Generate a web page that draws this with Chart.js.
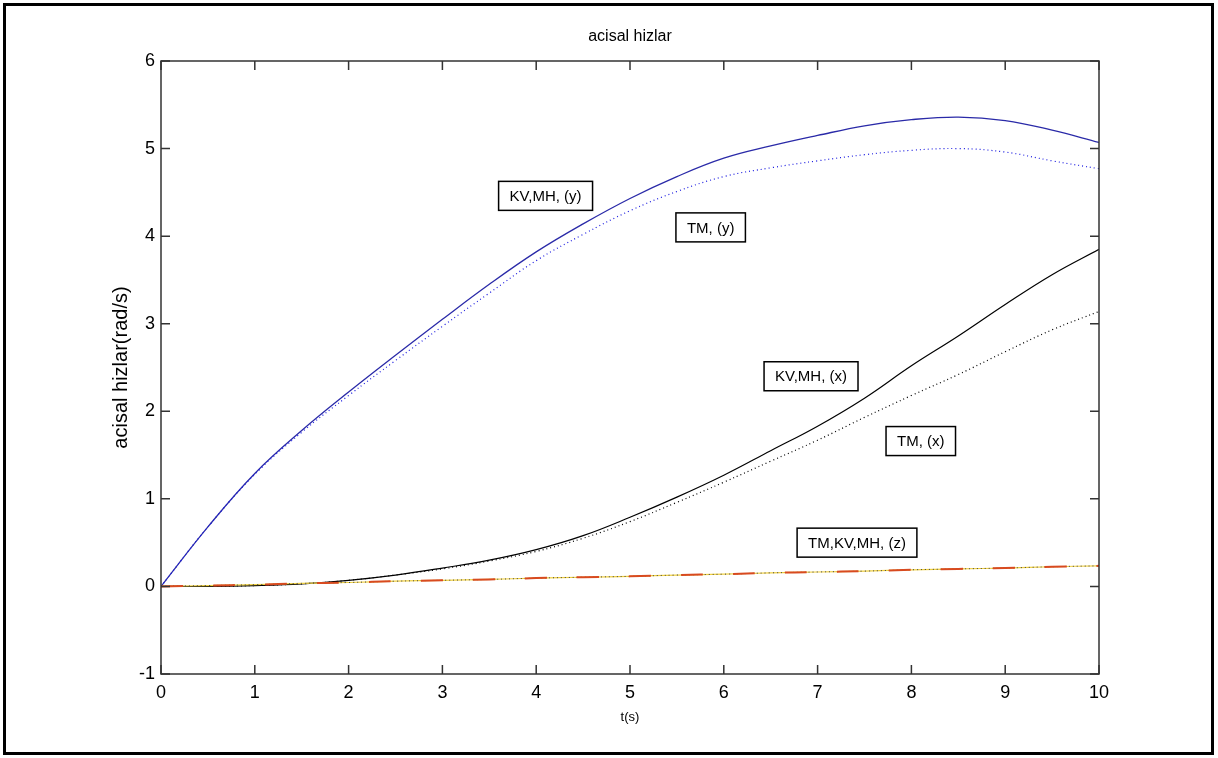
<!DOCTYPE html>
<html>
<head>
    <meta charset="UTF-8">
    <title>acisal hizlar</title>
    <style>
        body { margin: 0; background: #fff; font-family: "Liberation Sans", Arial, sans-serif; }
        #wrap { position: relative; width: 1218px; height: 758px; }
        #frame { position: absolute; left: 3px; top: 3px; width: 1211px; height: 752px; border: 3px solid #000; box-sizing: border-box; pointer-events: none; }
    </style>
    <script src="https://cdn.jsdelivr.net/npm/chart.js"></script>
</head>
<body>
<div id="wrap">
    <canvas id="chart" width="1218" height="758"></canvas>
    <div id="frame"></div>
</div>
<script>
    // time axis (s)
    const tValues = [0, 0.5, 1, 1.5, 2, 2.5, 3, 3.5, 4, 4.5, 5, 5.5, 6, 6.5, 7, 7.5, 8, 8.5, 9, 9.5, 10];

    // angular speeds
    const kvmhY = [0, 0.68, 1.29, 1.78, 2.22, 2.64, 3.05, 3.45, 3.82, 4.14, 4.43, 4.68, 4.89, 5.03, 5.15, 5.26, 5.33, 5.36, 5.32, 5.21, 5.07];
    const tmY   = [0, 0.68, 1.28, 1.76, 2.18, 2.58, 2.97, 3.35, 3.72, 4.02, 4.29, 4.51, 4.68, 4.78, 4.86, 4.93, 4.98, 5.0, 4.96, 4.86, 4.77];
    const kvmhX = [0, 0.0, 0.01, 0.03, 0.07, 0.13, 0.21, 0.3, 0.42, 0.58, 0.79, 1.02, 1.27, 1.55, 1.83, 2.15, 2.52, 2.86, 3.22, 3.56, 3.85];
    const tmX   = [0, 0.0, 0.01, 0.03, 0.07, 0.13, 0.2, 0.29, 0.4, 0.55, 0.74, 0.96, 1.19, 1.43, 1.67, 1.93, 2.18, 2.42, 2.68, 2.93, 3.14];
    const allZ  = [0, 0.01, 0.02, 0.035, 0.045, 0.06, 0.07, 0.08, 0.095, 0.105, 0.115, 0.13, 0.14, 0.155, 0.165, 0.175, 0.19, 0.2, 0.21, 0.225, 0.235];

    const xTicks = [0, 1, 2, 3, 4, 5, 6, 7, 8, 9, 10];
    const yTicks = [-1, 0, 1, 2, 3, 4, 5, 6];

    // text boxes: [text, t, value] at box centre
    const labelText = ['KV,MH, (y)', 'TM, (y)', 'KV,MH, (x)', 'TM, (x)', 'TM,KV,MH, (z)'];
    const labelT    = [4.1, 5.86, 6.93, 8.1, 7.42];
    const labelV    = [4.46, 4.1, 2.4, 1.66, 0.5];

    const pts = vals => tValues.map((t, i) => ({ x: t, y: vals[i] }));

    function line(vals, color, width, dash) {
        return {
            data: pts(vals),
            borderColor: color,
            borderWidth: width,
            borderDash: dash || [],
            pointRadius: 0,
            fill: false,
            tension: 0.4
        };
    }

    const FONT = '"Liberation Sans", Arial, sans-serif';

    // MATLAB-style box, inward ticks, titles and text boxes
    const matlabLook = {
        id: 'matlabLook',
        afterDatasetsDraw(chart) {
            const ctx = chart.ctx;
            const a = chart.chartArea;
            const xs = chart.scales.x, ys = chart.scales.y;
            ctx.save();
            ctx.strokeStyle = '#333';
            ctx.lineWidth = 1.5;
            ctx.strokeRect(a.left, a.top, a.right - a.left, a.bottom - a.top);
            ctx.beginPath();
            xTicks.forEach(v => {
                const px = xs.getPixelForValue(v);
                ctx.moveTo(px, a.bottom); ctx.lineTo(px, a.bottom - 9);
                ctx.moveTo(px, a.top); ctx.lineTo(px, a.top + 9);
            });
            yTicks.forEach(v => {
                const py = ys.getPixelForValue(v);
                ctx.moveTo(a.left, py); ctx.lineTo(a.left + 9, py);
                ctx.moveTo(a.right, py); ctx.lineTo(a.right - 9, py);
            });
            ctx.stroke();

            // title and axis labels
            ctx.fillStyle = '#000';
            ctx.textAlign = 'center';
            ctx.textBaseline = 'middle';
            ctx.font = '16px ' + FONT;
            ctx.fillText('acisal hizlar', (a.left + a.right) / 2, 37);
            ctx.font = '13px ' + FONT;
            ctx.fillText('t(s)', (a.left + a.right) / 2, 717);
            ctx.save();
            ctx.translate(121, (a.top + a.bottom) / 2);
            ctx.rotate(-Math.PI / 2);
            ctx.font = '20px ' + FONT;
            ctx.fillText('acisal hizlar(rad/s)', 0, 0);
            ctx.restore();

            // annotation boxes
            ctx.font = '15px ' + FONT;
            labelText.forEach((txt, i) => {
                const cx = xs.getPixelForValue(labelT[i]);
                const cy = ys.getPixelForValue(labelV[i]);
                const w = ctx.measureText(txt).width + 22;
                const h = 29;
                ctx.fillStyle = '#fff';
                ctx.fillRect(cx - w / 2, cy - h / 2, w, h);
                ctx.strokeStyle = '#000';
                ctx.lineWidth = 1.5;
                ctx.strokeRect(cx - w / 2, cy - h / 2, w, h);
                ctx.fillStyle = '#000';
                ctx.fillText(txt, cx, cy + 1);
            });
            ctx.restore();
        }
    };

    new Chart(document.getElementById('chart'), {
        type: 'line',
        data: {
            datasets: [
                line(allZ, '#d84a20', 2, [22, 30]),
                line(allZ, '#444', 1, [1, 3]),
                line(allZ, '#f0d040', 1.2),
                line(tmX, '#000', 1.2, [1, 3]),
                line(kvmhX, '#000', 1.2),
                line(tmY, '#1a1ae0', 1.2, [1, 3]),
                line(kvmhY, '#2a2aa8', 1.3)
            ]
        },
        plugins: [matlabLook],
        options: {
            responsive: false,
            animation: false,
            events: [],
            layout: { padding: { left: 0, right: 119, top: 61, bottom: 0 } },
            plugins: { legend: { display: false }, tooltip: { enabled: false } },
            scales: {
                x: {
                    type: 'linear',
                    min: 0, max: 10,
                    afterFit: s => { s.height = 84; },
                    afterBuildTicks: s => { s.ticks = xTicks.map(v => ({ value: v })); },
                    grid: { display: false, drawTicks: false },
                    border: { display: false },
                    ticks: { color: '#000', font: { family: FONT, size: 18 }, padding: 8, maxRotation: 0 }
                },
                y: {
                    min: -1, max: 6,
                    afterFit: s => { s.width = 161; },
                    afterBuildTicks: s => { s.ticks = yTicks.map(v => ({ value: v })); },
                    grid: { display: false, drawTicks: false },
                    border: { display: false },
                    ticks: { color: '#000', font: { family: FONT, size: 18 }, padding: 6 }
                }
            }
        }
    });
</script>
</body>
</html>
